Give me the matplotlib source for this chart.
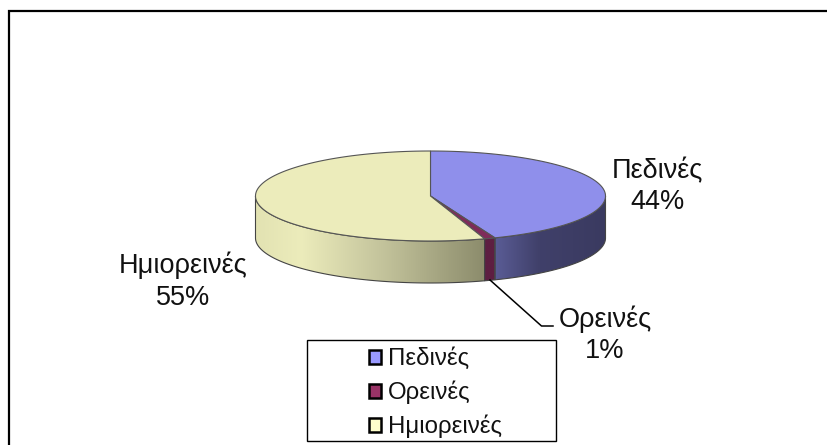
import numpy as np
import matplotlib
matplotlib.use("Agg")
import matplotlib.pyplot as plt
from matplotlib.patches import Polygon, Rectangle, Patch

labels = ['Πεδινές', 'Ορεινές', 'Ημιορεινές']
values = [44, 1, 55]
percents = ['44%', '1%', '55%']

plt.rcParams['font.family'] = ['Liberation Sans', 'DejaVu Sans']

top_colors = ['#8F8FEB', '#7F2B5A', '#ECECBB']
legend_colors = ['#9999FF', '#993366', '#FFFFCC']
# side shading, 0 = right end of the slice, 1 = left end
side_ramps = [
    [(0.0, '#3A3A60'), (0.6, '#40406A'), (1.0, '#5A5C96')],
    [(0.0, '#5E1F42'), (1.0, '#5E1F42')],
    [(0.0, '#8C8C6C'), (0.45, '#C4C49C'), (0.8, '#ECECBB'), (1.0, '#E2E2B2')],
]

cx, cy, rx, ry, depth = 430.5, 196, 175, 45, 42

def ell(t):
    t = np.radians(t)
    return cx + rx * np.sin(t), cy - ry * np.cos(t)

fig = plt.figure(figsize=(8.28, 4.45), dpi=100)
ax = fig.add_axes([0, 0, 1, 1])

# chart frame, only left and top visible in the crop
ax.plot([9.5, 9.5, 828], [445, 11, 11], color='black', lw=1.6, solid_joinstyle='miter')

angles = np.cumsum([0] + values) * 360 / sum(values)

# sides first
for i in range(3):
    lo, hi = max(angles[i], 90), min(angles[i + 1], 270)
    if hi <= lo:
        continue
    t = np.linspace(lo, hi, 120)
    x, y = ell(t)
    pts = np.vstack([np.c_[x, y], np.c_[x[::-1], y[::-1] + depth]])
    ax.add_patch(Polygon(pts, closed=True, fc='none', ec='#444444', lw=0.8, zorder=3))
    # gradient along x, clipped to the side polygon
    xs = np.linspace(x.min(), x.max(), 200)
    frac = (x.max() - xs) / (x.max() - x.min())
    pos = [r[0] for r in side_ramps[i]]
    cols = np.array([matplotlib.colors.to_rgb(r[1]) for r in side_ramps[i]])
    img = np.stack([np.interp(frac, pos, cols[:, k]) for k in range(3)], axis=1)[None, :, :]
    im = ax.imshow(img, extent=[x.min(), x.max(), y.max() + depth, y.min()],
                   aspect='auto', zorder=2, interpolation='bilinear')
    im.set_clip_path(Polygon(pts, closed=True, transform=ax.transData))

ax.set_xlim(0, 828)
ax.set_ylim(445, 0)
ax.axis('off')

# top face
for i in range(3):
    t = np.linspace(angles[i], angles[i + 1], 200)
    x, y = ell(t)
    pts = np.vstack([[cx, cy], np.c_[x, y]])
    ax.add_patch(Polygon(pts, closed=True, fc=top_colors[i], ec='#555555', lw=0.8, zorder=4))

# labels
fs = 19.5
kw = dict(ha='center', va='baseline', fontsize=fs, zorder=6, color='#111111')
ax.text(657.5, 178, labels[0], **kw)
ax.text(657.5, 209, percents[0], **kw)
ax.text(605, 327, labels[1], **kw)
ax.text(605, 358, percents[1], **kw)
ax.text(183, 273, labels[2], **kw)
ax.text(183, 305, percents[2], **kw)

# leader line for the small slice
ax.plot([490, 541.5, 553], [280, 326, 326], color='black', lw=1.1, zorder=5)

# legend box
ax.add_patch(Rectangle((307.5, 339.5), 249, 101, fc='white', ec='black', lw=1.0, zorder=6))
handles = [Patch(fc=c, ec='black', lw=1.8) for c in legend_colors]
leg = ax.legend(handles, labels, loc='center left', bbox_to_anchor=(369, 393), bbox_transform=ax.transData,
                frameon=False, fontsize=17.3, handlelength=0.52, handleheight=0.52, handletextpad=0.28,
                labelspacing=0.44, borderpad=0, borderaxespad=0, labelcolor='#111111')
leg.set_zorder(7)

fig.savefig('out.png', dpi=100)
